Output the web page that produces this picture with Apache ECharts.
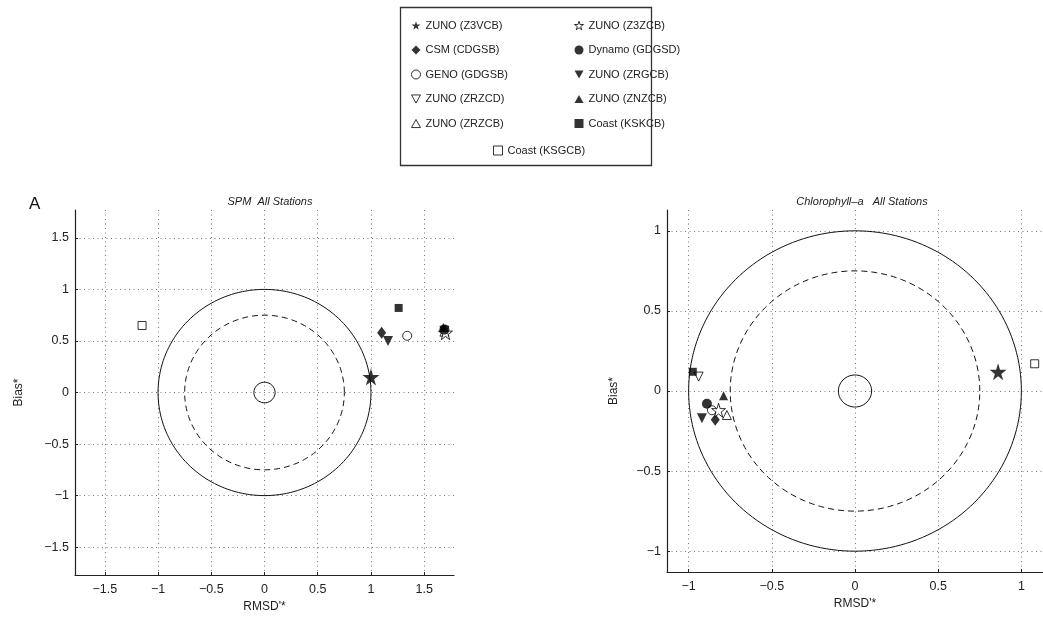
<!DOCTYPE html>
<html>
<head>
<meta charset="utf-8">
<script src="https://cdn.jsdelivr.net/npm/echarts@6/dist/echarts.min.js"></script>
<style>
  html, body { margin: 0; padding: 0; background: #fff; }
  #plot { width: 1043px; height: 619px; }
</style>
</head>
<body>
<div id="plot"></div>
<script>
// Target diagrams: normalised bias vs unbiased RMSD, two panels

const models = [
  "ZUNO (Z3VCB)", "CSM (CDGSB)", "GENO (GDGSB)", "ZUNO (ZRZCD)", "ZUNO (ZRZCB)",
  "ZUNO (Z3ZCB)", "Dynamo (GDGSD)", "ZUNO (ZRGCB)", "ZUNO (ZNZCB)", "Coast (KSKCB)",
  "Coast (KSGCB)",
];

// [RMSD'*, Bias*] per model, SPM panel
const spmPts = [
  [1.0, 0.15], [1.1, 0.58], [1.34, 0.55], [1.69, 0.6], [1.69, 0.59],
  [1.7, 0.58], [1.69, 0.61], [1.16, 0.5], [1.68, 0.63], [1.26, 0.82],
  [-1.15, 0.65],
];
// [RMSD'*, Bias*] per model, Chlorophyll-a panel
const chlPts = [
  [0.86, 0.12], [-0.84, -0.18], [-0.86, -0.12], [-0.94, 0.09], [-0.77, -0.15],
  [-0.82, -0.12], [-0.89, -0.08], [-0.92, -0.17], [-0.79, -0.03], [-0.975, 0.12],
  [1.08, 0.17],
];

const spmTicks = [-1.5, -1, -0.5, 0, 0.5, 1, 1.5];
const chlTicks = [-1, -0.5, 0, 0.5, 1];

// reference circles: outer (solid), inner (dashed), centre (solid)
const circleRadii = [1, 0.75, 0.1];
const circleDash = ["solid", [6, 4], "solid"];

const STAR = "path://M50,0 L61,35 L98,35 L68,57 L79,91 L50,70 L21,91 L32,57 L2,35 L39,35 Z";
const DOWN = "path://M0,0 L10,0 L5,9 Z";
const UP = "path://M5,0 L10,9 L0,9 Z";

// symbol, filled, plot size
const markers = [
  [STAR, true, 17], ["diamond", true, [9, 12]], ["circle", false, 9], [DOWN, false, 9], [UP, false, 9],
  [STAR, false, 14], ["circle", true, 10], [DOWN, true, 10], [UP, true, 9], ["rect", true, 8],
  ["rect", false, 8],
];

function circlePts(r) {
  const pts = [];
  for (let i = 0; i <= 180; i++) {
    const a = (i / 180) * Math.PI * 2;
    pts.push([r * Math.cos(a), r * Math.sin(a)]);
  }
  return pts;
}

const font = "Liberation Sans";
const fmt = (v) => String(v).replace("-", "\u2212");

function axisOf(grid, ticks, lim, name, gap, isY) {
  return {
    type: "value",
    gridIndex: grid,
    min: -lim,
    max: lim,
    name: name,
    nameLocation: "middle",
    nameGap: gap,
    nameTextStyle: { fontFamily: font, fontSize: 12, color: "#222" },
    axisLine: { show: true, onZero: false, lineStyle: { color: "#222", width: 1.2 } },
    axisTick: { show: true, inside: true, length: 3, customValues: ticks, lineStyle: { color: "#222" } },
    axisLabel: {
      customValues: ticks,
      formatter: fmt,
      fontFamily: font,
      fontSize: 12.5,
      color: "#222",
      margin: isY ? 6 : 8,
    },
    splitLine: { show: true, lineStyle: { color: "#777", type: [1, 3.5], width: 1 } },
  };
}

const series = [];
[0, 1].forEach((g) => {
  circleRadii.forEach((r, i) => {
    series.push({
      type: "line",
      xAxisIndex: g,
      yAxisIndex: g,
      data: circlePts(r),
      showSymbol: false,
      silent: true,
      lineStyle: { color: "#111", width: 1, type: circleDash[i] },
      z: 2,
    });
  });
});
const styleOf = (filled) =>
  filled ? { color: "#000", borderWidth: 0 } : { color: "#fff", borderColor: "#000", borderWidth: 1 };

models.forEach((name, i) => {
  const [sym, filled, size] = markers[i];
  [spmPts, chlPts].forEach((pts, g) => {
    series.push({
      name: name,
      type: "scatter",
      xAxisIndex: g,
      yAxisIndex: g,
      symbol: sym,
      symbolSize: size,
      data: [pts[i]],
      itemStyle: styleOf(filled),
      z: 5,
    });
  });
});

const legendText = { fontFamily: font, fontSize: 11, color: "#222" };
function legendCol(from, to, left, top) {
  const data = [];
  for (let i = from; i < to; i++) {
    data.push({ name: models[i], icon: markers[i][0], itemStyle: styleOf(markers[i][1]) });
  }
  return {
    data: data,
    orient: "vertical",
    left: left,
    top: top,
    itemWidth: 9,
    itemHeight: 9,
    itemGap: 13.5,
    textStyle: legendText,
    selectedMode: false,
  };
}

const chart = echarts.init(document.getElementById("plot"), null, { renderer: "canvas" });
chart.setOption({
  animation: false,
  backgroundColor: "#fff",
  title: [
    { text: "SPM  All Stations", left: 265, top: 191, textAlign: "center",
      textStyle: { fontFamily: font, fontSize: 11, fontStyle: "italic", fontWeight: "normal", color: "#222" } },
    { text: "Chlorophyll\u2013a   All Stations", left: 857, top: 191, textAlign: "center",
      textStyle: { fontFamily: font, fontSize: 11, fontStyle: "italic", fontWeight: "normal", color: "#222" } },
    { text: "A", left: 24, top: 191,
      textStyle: { fontFamily: font, fontSize: 17, fontWeight: "normal", color: "#111" } },
  ],
  legend: [
    legendCol(0, 5, 406, 15),
    legendCol(5, 10, 569, 15),
    legendCol(10, 11, 488, 140),
  ],
  graphic: [
    { type: "rect", shape: { x: 400.5, y: 7.5, width: 251, height: 158 },
      style: { fill: "none", stroke: "#333", lineWidth: 1.3 } },
  ],
  grid: [
    { left: 75, right: 589, top: 210, bottom: 44 },
    { left: 667, right: -6, top: 210, bottom: 47 },
  ],
  xAxis: [
    axisOf(0, spmTicks, 1.78, "RMSD'*", 23, false),
    axisOf(1, chlTicks, 1.13, "RMSD'*", 25, false),
  ],
  yAxis: [
    axisOf(0, spmTicks, 1.77, "Bias*", 50, true),
    axisOf(1, chlTicks, 1.13, "Bias*", 47, true),
  ],
  series: series,
});
</script>
</body>
</html>
